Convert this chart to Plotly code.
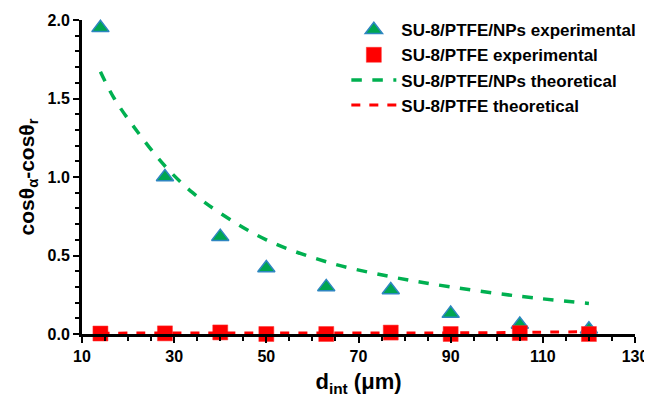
import plotly.graph_objects as go

# Data
d_exp = [14, 28, 40, 50, 63, 77, 90, 105, 120]
nps_exp = [1.95, 1.00, 0.62, 0.42, 0.30, 0.28, 0.13, 0.06, 0.03]
ptfe_exp = [0.003, 0.004, 0.010, 0.000, 0.000, 0.009, 0.000, 0.006, 0.000]

d_theo = [14, 17, 22, 28, 34, 40, 50, 63, 77, 90, 105, 120]
nps_theo = [1.67, 1.50, 1.29, 1.07, 0.90, 0.77, 0.60, 0.46, 0.365, 0.30, 0.24, 0.195]
ptfe_theo = [0.005, 0.005, 0.006, 0.006, 0.006, 0.007, 0.006, 0.006, 0.007, 0.007, 0.010, 0.015]

FONT = "Liberation Sans"

fig = go.Figure()
fig.add_trace(go.Scatter(
    x=d_exp, y=nps_exp, mode="markers", name="SU-8/PTFE/NPs experimental",
    legendgroup="a",
    marker=dict(symbol="triangle-up", size=15, color="#00a651",
                line=dict(color="#2e86c1", width=1.5)),
    cliponaxis=False))
fig.add_trace(go.Scatter(
    x=d_exp, y=ptfe_exp, mode="markers", name="SU-8/PTFE experimental",
    legendgroup="b",
    marker=dict(symbol="square", size=15, color="#ff0000",
                line=dict(color="#ff3030", width=0.5)),
    cliponaxis=False))
fig.add_trace(go.Scatter(
    x=d_theo, y=nps_theo, mode="lines", name="SU-8/PTFE/NPs theoretical",
    legendgroup="c",
    line=dict(color="#00b050", width=3.5, dash="dash", shape="spline"),
    cliponaxis=False))
fig.add_trace(go.Scatter(
    x=d_theo, y=ptfe_theo, mode="lines", name="SU-8/PTFE theoretical",
    legendgroup="d",
    line=dict(color="#ff0000", width=3, dash="dash", shape="spline"),
    cliponaxis=False))

# The page body adds an 8px offset, so the figure is 8px smaller than the window.
fig.update_layout(
    width=644, height=393,
    margin=dict(l=74, r=17, t=12, b=67, autoexpand=False),
    paper_bgcolor="white", plot_bgcolor="white",
    font=dict(family=FONT, color="black"),
    legend=dict(x=0.478, y=1.025, xanchor="left", yanchor="top",
                font=dict(family=FONT, size=17, color="black", weight="bold"),
                bgcolor="rgba(0,0,0,0)", tracegroupgap=0, itemwidth=45),
    xaxis=dict(
        range=[10, 130], tick0=10, dtick=20, showgrid=False, zeroline=False,
        showline=True, linecolor="black", linewidth=3, automargin=False,
        ticks="outside", ticklen=6, tickwidth=2, tickcolor="black",
        tickfont=dict(family=FONT, size=16, color="black", weight="bold"),
        minor=dict(dtick=5, ticks="outside", ticklen=4, tickwidth=2, tickcolor="black"),
        title=dict(text="d<sub>int</sub> (μm)", standoff=10,
                   font=dict(family=FONT, size=22, color="black", weight="bold")),
    ),
    yaxis=dict(
        range=[0, 2.0], tick0=0, dtick=0.5, tickformat=".1f", showgrid=False,
        zeroline=False, showline=True, linecolor="black", linewidth=3, automargin=False,
        ticks="outside", ticklen=6, tickwidth=2, tickcolor="black",
        tickfont=dict(family=FONT, size=16, color="black", weight="bold"),
        minor=dict(dtick=0.1, ticks="outside", ticklen=4, tickwidth=2, tickcolor="black"),
        title=dict(text="cosθ<sub>α</sub>-cosθ<sub>r</sub>", standoff=8,
                   font=dict(family=FONT, size=21, color="black", weight="bold")),
    ),
)

fig.write_html("out.html")
